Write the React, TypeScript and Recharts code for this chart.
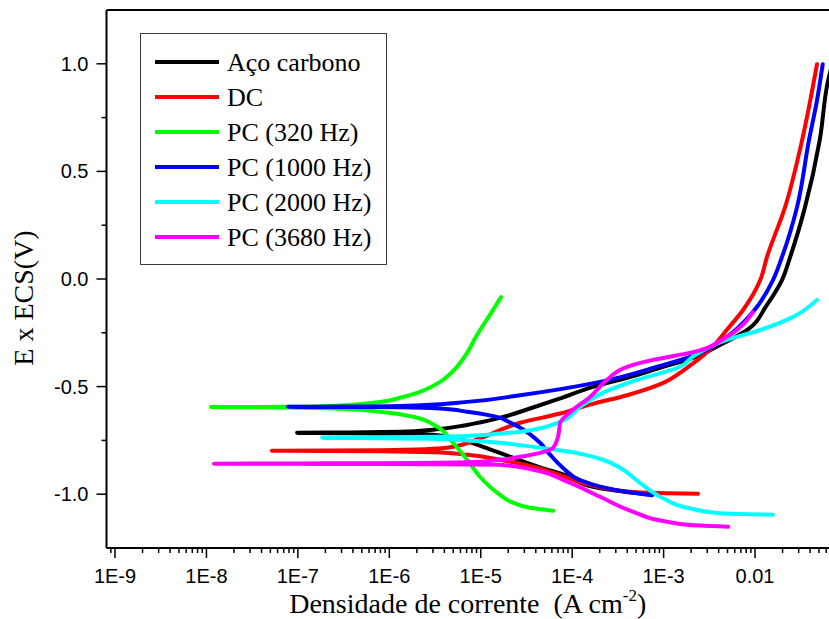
import { Legend, Line, LineChart, ReferenceLine, XAxis, YAxis } from 'recharts';

// Curvas de polarização: [densidade de corrente (A cm-2), potencial (V vs ECS)]
// Cada curva vai do ramo catódico, passa pelo Ecorr (ponta esquerda) e sobe no ramo anódico,
// sempre com o potencial crescente (por isso a curva monotoneY).
type Pt = [number, number];

const acoCarbono: Pt[] = [
  [7.1e-4, -1.002], [4.0e-4, -0.99], [1.69e-4, -0.965], [8.8e-5, -0.915], [4.45e-5, -0.875],
  [2.09e-5, -0.826], [1.06e-5, -0.78], [5.9e-6, -0.745], [3.59e-6, -0.727], [1.31e-6, -0.718],
  [3.7e-7, -0.717], [9.8e-8, -0.715], [3.7e-7, -0.713], [1.31e-6, -0.71], [3.0e-6, -0.7],
  [7.1e-6, -0.678], [1.63e-5, -0.645], [3.73e-5, -0.597], [7.4e-5, -0.555], [1.69e-4, -0.501],
  [4.0e-4, -0.459], [9.1e-4, -0.413], [2.1e-3, -0.367], [4.14e-3, -0.306], [8.2e-3, -0.237],
  [1.35e-2, -0.12], [1.97e-2, -0.005], [2.42e-2, 0.102], [3.52e-2, 0.334], [5.1e-2, 0.645],
  [6.3e-2, 0.923], [7.0e-2, 1.0],
];

const dc: Pt[] = [
  [2.38e-3, -0.998], [1.09e-3, -0.996], [4.6e-4, -0.99], [2.02e-4, -0.968], [8.8e-5, -0.923],
  [3.73e-5, -0.872], [1.63e-5, -0.84], [7.1e-6, -0.817], [3.0e-6, -0.805], [7.9e-7, -0.8],
  [5.2e-8, -0.798], [7.9e-7, -0.796], [4.28e-6, -0.784], [9.8e-6, -0.74], [2.7e-5, -0.668],
  [7.4e-5, -0.625], [1.69e-4, -0.58], [4.0e-4, -0.54], [9.1e-4, -0.49], [1.8e-3, -0.413],
  [3.2e-3, -0.329], [4.9e-3, -0.237], [7.4e-3, -0.144], [1.14e-2, -0.005], [1.35e-2, 0.102],
  [2.13e-2, 0.334], [3.27e-2, 0.645], [4.76e-2, 0.998],
];

const pc320: Pt[] = [
  [6.2e-5, -1.077], [3.46e-5, -1.063], [2.25e-5, -1.039], [1.51e-5, -0.993], [9.8e-6, -0.919],
  [7.1e-6, -0.84], [4.98e-6, -0.761], [3.33e-6, -0.687], [1.82e-6, -0.64], [7.9e-7, -0.617],
  [2.89e-7, -0.603], [8.2e-8, -0.597], [1.12e-8, -0.595], [8.2e-8, -0.594], [2.89e-7, -0.588],
  [7.9e-7, -0.572], [1.31e-6, -0.552], [2.17e-6, -0.524], [3.59e-6, -0.478], [5.5e-6, -0.408],
  [7.1e-6, -0.343], [9.1e-6, -0.26], [1.26e-5, -0.167], [1.67e-5, -0.084],
];

const pc1000: Pt[] = [
  [7.5e-4, -1.005], [4.0e-4, -0.99], [2.02e-4, -0.965], [1.22e-4, -0.935], [7.9e-5, -0.877],
  [5.7e-5, -0.815], [4.45e-5, -0.761], [2.7e-5, -0.691], [1.94e-5, -0.66], [1.63e-5, -0.645],
  [7.1e-6, -0.617], [3.59e-6, -0.602], [1.31e-6, -0.596], [2.89e-7, -0.595], [7.8e-8, -0.594],
  [2.89e-7, -0.593], [1.31e-6, -0.59], [7.1e-6, -0.571], [2.7e-5, -0.54], [2.02e-4, -0.478],
  [9.1e-4, -0.404], [2.1e-3, -0.357], [4.9e-3, -0.269], [9.5e-3, -0.153], [1.57e-2, -0.005],
  [1.97e-2, 0.102], [2.88e-2, 0.334], [3.89e-2, 0.645], [4.76e-2, 0.83], [5.5e-2, 0.998],
];

const pc2000: Pt[] = [
  [1.57e-2, -1.095], [4.14e-3, -1.088], [1.8e-3, -1.063], [1.0e-3, -1.02], [5.5e-4, -0.947],
  [3.33e-4, -0.877], [2.17e-4, -0.84], [1.32e-4, -0.815], [9.5e-5, -0.803], [5.7e-5, -0.79],
  [2.7e-5, -0.772], [1.63e-5, -0.761], [7.1e-6, -0.75], [3.0e-6, -0.742], [7.9e-7, -0.74],
  [1.84e-7, -0.738], [7.9e-7, -0.736], [3.0e-6, -0.733], [7.1e-6, -0.729], [1.63e-5, -0.718],
  [2.7e-5, -0.71], [7.4e-5, -0.664], [1.22e-4, -0.594], [2.17e-4, -0.529], [5.1e-4, -0.469],
  [1.51e-3, -0.408], [2.1e-3, -0.36], [4.9e-3, -0.283], [1.14e-2, -0.237], [2.61e-2, -0.176],
  [4.76e-2, -0.097],
];

const pc3680: Pt[] = [
  [5.1e-3, -1.151], [2.5e-3, -1.146], [1.09e-3, -1.128], [4.6e-4, -1.081], [2.02e-4, -1.012],
  [8.8e-5, -0.942], [3.73e-5, -0.886], [1.63e-5, -0.863], [3.59e-6, -0.861], [7.9e-7, -0.86],
  [1.05e-7, -0.859], [1.21e-8, -0.858], [1.05e-7, -0.857], [7.9e-7, -0.856], [7.1e-6, -0.852],
  [1.63e-5, -0.84], [2.7e-5, -0.826], [6.2e-5, -0.784], [7.0e-5, -0.733], [7.4e-5, -0.668],
  [1.02e-4, -0.608], [1.57e-4, -0.548], [2.4e-4, -0.469], [4.0e-4, -0.408], [7.7e-4, -0.376],
  [2.1e-3, -0.34], [4.9e-3, -0.269], [9.5e-3, -0.155],
];

const SERIES = [
  { name: 'Aço carbono', color: '#000000', points: acoCarbono },
  { name: 'DC', color: '#ff0000', points: dc },
  { name: 'PC (320 Hz)', color: '#00ff00', points: pc320 },
  { name: 'PC (1000 Hz)', color: '#0000ff', points: pc1000 },
  { name: 'PC (2000 Hz)', color: '#00ffff', points: pc2000 },
  { name: 'PC (3680 Hz)', color: '#ff00ff', points: pc3680 },
];

// Eixo x logarítmico: o quadro corta um pouco antes de 1E-9 e depois de 0.01
const X_DOMAIN: [number, number] = [8.07e-10, 0.0644];
const xTickLabels = ['1E-9', '1E-8', '1E-7', '1E-6', '1E-5', '1E-4', '1E-3', '0.01'];
const Y_DOMAIN: [number, number] = [-1.25, 1.25];
const yTicks = [-1, -0.75, -0.5, -0.25, 0, 0.25, 0.5, 0.75, 1];

const SANS = '"Liberation Sans", Arial, sans-serif';
const SERIF = '"Liberation Serif", "Times New Roman", serif';

// todos os ticks menores (2..9) e maiores (1) de cada década dentro do domínio
const xTicks: number[] = [];
for (let k = -10; k <= -2; k++) {
  for (let m = 1; m <= 9; m++) {
    const v = m * Math.pow(10, k);
    if (v >= X_DOMAIN[0] && v <= X_DOMAIN[1]) xTicks.push(v);
  }
}

function XTick({ x, y, payload }: any) {
  const l = Math.log10(payload.value);
  const major = Math.abs(l - Math.round(l)) < 1e-6;
  const label = xTickLabels[Math.round(l) + 9];
  return (
    <g>
      <line x1={x} x2={x} y1={y} y2={y + (major ? 10 : 5)} stroke="#000" strokeWidth={1.5} />
      {major && label && (
        <text x={x} y={y + 35} textAnchor="middle" fontSize={20} fontFamily={SANS} fill="#000">
          {label}
        </text>
      )}
    </g>
  );
}

function YTick({ x, y, payload }: any) {
  const v: number = payload.value;
  const major = Math.abs(v * 2 - Math.round(v * 2)) < 1e-6;
  return (
    <g>
      <line x1={x} x2={x - (major ? 10 : 5)} y1={y} y2={y} stroke="#000" strokeWidth={1.5} />
      {major && (
        <text x={x - 18} y={y + 7} textAnchor="end" fontSize={20} fontFamily={SANS} fill="#000">
          {v.toFixed(1)}
        </text>
      )}
    </g>
  );
}

function XTitle({ viewBox }: any) {
  const cx = viewBox.x + viewBox.width / 2;
  return (
    <text x={cx} y={613} textAnchor="middle" fontSize={28} fontFamily={SERIF} fill="#000">
      Densidade de corrente{'\u00a0 '}(A cm
      <tspan fontSize={17} dy={-12}>-2</tspan>
      <tspan dy={12}>)</tspan>
    </text>
  );
}

function YTitle() {
  return (
    <text
      x={33}
      y={298}
      transform="rotate(-90 33 298)"
      textAnchor="middle"
      fontSize={28}
      fontFamily={SERIF}
      fill="#000"
    >
      E x ECS(V)
    </text>
  );
}

function LegendBox({ payload }: any) {
  // mantém a ordem das séries (o Recharts ordena o payload pelo nome)
  const items = SERIES.map((s) => {
    const p = (payload || []).find((e: any) => e.value === s.name);
    return { value: s.name, color: p?.color ?? s.color };
  });
  return (
    <div
      style={{
        width: 247,
        height: 232,
        boxSizing: 'border-box',
        border: '1px solid #3a3a3a',
        background: '#fff',
        paddingTop: 10.5,
      }}
    >
      {items.map((p) => (
        <div key={p.value} style={{ display: 'flex', alignItems: 'center', height: 35 }}>
          <span style={{ width: 64, height: 4, background: p.color, marginLeft: 14, marginRight: 8 }} />
          <span style={{ fontFamily: SERIF, fontSize: 26, lineHeight: '35px', color: '#000', whiteSpace: 'nowrap' }}>
            {p.value}
          </span>
        </div>
      ))}
    </div>
  );
}

export default function App() {
  return (
    <div style={{ position: 'absolute', left: 0, top: 0, width: 829, height: 619, overflow: 'hidden', background: '#fff' }}>
      <LineChart width={829} height={619} margin={{ top: 10, right: 0, bottom: 0, left: 0 }}>
        <XAxis
          dataKey="i"
          type="number"
          scale="log"
          domain={X_DOMAIN}
          allowDataOverflow
          ticks={xTicks}
          interval={0}
          tick={<XTick />}
          tickLine={false}
          tickSize={0}
          tickMargin={0}
          height={71}
          axisLine={{ stroke: '#000', strokeWidth: 2 }}
          label={<XTitle />}
        />
        <YAxis
          type="number"
          domain={Y_DOMAIN}
          allowDataOverflow
          ticks={yTicks}
          interval={0}
          tick={<YTick />}
          tickLine={false}
          tickSize={0}
          tickMargin={0}
          width={106.5}
          axisLine={{ stroke: '#000', strokeWidth: 2 }}
          label={<YTitle />}
        />
        <ReferenceLine y={1.25} stroke="#000" strokeWidth={2} />
        {SERIES.map((s) => (
          <Line
            key={s.name}
            name={s.name}
            data={s.points.map(([i, e]) => ({ i, e }))}
            dataKey="e"
            type="monotoneY"
            stroke={s.color}
            strokeWidth={4}
            strokeLinecap="round"
            strokeLinejoin="round"
            dot={false}
            activeDot={false}
            isAnimationActive={false}
          />
        ))}
        <Legend
          layout="vertical"
          align="center"
          verticalAlign="middle"
          content={<LegendBox />}
          wrapperStyle={{ left: 140, top: 33, width: 247, height: 232 }}
        />
      </LineChart>
    </div>
  );
}
